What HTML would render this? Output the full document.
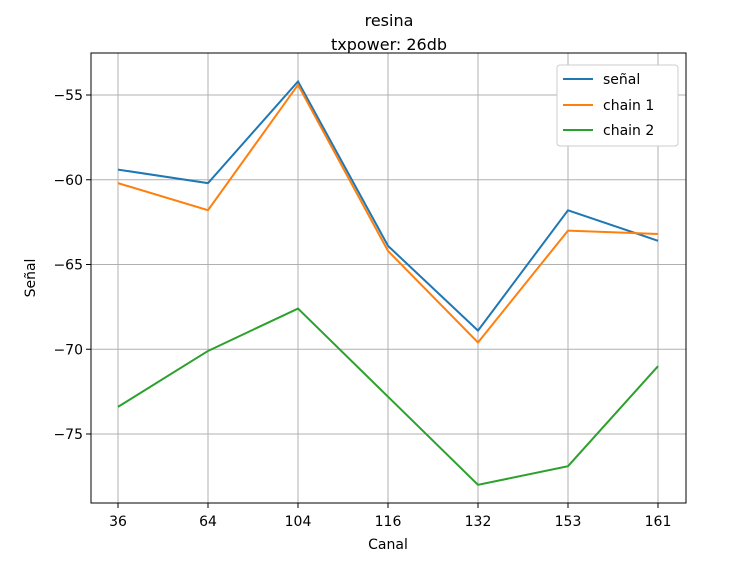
<!DOCTYPE html>
<html><head><meta charset="utf-8"><style>
body{margin:0;background:#fff;}
svg{font-family:"DejaVu Sans","Liberation Sans",sans-serif;}
</style></head><body>
<svg id="chart" width="751" height="558">
<rect width="751" height="558" fill="#fff"/>
<text x="389" y="26" font-size="16" text-anchor="middle">resina</text>
<text x="389" y="50" font-size="16" text-anchor="middle">txpower: 26db</text>
<g id="grid"></g><g id="series"></g>
<rect x="91" y="53" width="595" height="450" fill="none" stroke="#000" stroke-width="1"/>
<g id="axes"></g>
<text x="388" y="549" font-size="14" text-anchor="middle">Canal</text>
<text transform="translate(35,278) rotate(-90)" font-size="14" text-anchor="middle">Señal</text>
<g>
<rect x="557" y="65" width="121" height="81" rx="3" fill="#fff" stroke="#ccc"/>
<line x1="563" y1="79" x2="593" y2="79" stroke="#1f77b4" stroke-width="2"/>
<text x="603" y="84" font-size="14">señal</text>
<line x1="563" y1="105" x2="593" y2="105" stroke="#ff7f0e" stroke-width="2"/>
<text x="603" y="110" font-size="14">chain 1</text>
<line x1="563" y1="130" x2="593" y2="130" stroke="#2ca02c" stroke-width="2"/>
<text x="603" y="135" font-size="14">chain 2</text>
</g>
</svg>
<script>
const categories=["36","64","104","116","132","153","161"];
const senal=[-59.4,-60.2,-54.2,-63.9,-68.9,-61.8,-63.6];
const chain1=[-60.2,-61.8,-54.4,-64.2,-69.6,-63.0,-63.2];
const chain2=[-73.4,-70.1,-67.6,-72.8,-78.0,-76.9,-71.0];
const yTicks=[-55,-60,-65,-70,-75];
const NS="http://www.w3.org/2000/svg";
function xPos(i){return 118+i*90;}
function yPos(v){return 95+(-55-v)*16.95;}
function mk(t,a,p){const e=document.createElementNS(NS,t);for(const k in a)e.setAttribute(k,a[k]);p.appendChild(e);return e;}
const grid=document.getElementById('grid'),axes=document.getElementById('axes'),ser=document.getElementById('series');
categories.forEach((c,i)=>{
 const x=xPos(i);
 const g=mk('line',{x1:x,x2:x,y1:53,y2:503,stroke:'#b0b0b0','stroke-width':1},grid);
 
 
 mk('line',{x1:x,x2:x,y1:503,y2:508,stroke:'#000'},axes);
 const t=mk('text',{x:x,y:526,'font-size':14,'text-anchor':'middle'},axes);t.textContent=c;
 
 
});
yTicks.forEach(v=>{
 const y=yPos(v);
 const g=mk('line',{x1:91,x2:686,y1:y,y2:y,stroke:'#b0b0b0','stroke-width':1},grid);
 
 
 mk('line',{x1:86,x2:91,y1:y,y2:y,stroke:'#000'},axes);
 const t=mk('text',{x:83,y:y+5,'font-size':14,'text-anchor':'end'},axes);t.textContent='\u2212'+Math.abs(v);
 
 
});
[[senal,'#1f77b4','senal-line'],[chain1,'#ff7f0e','chain1-line'],[chain2,'#2ca02c','chain2-line']].forEach(([d,c,n])=>{
 const p=mk('polyline',{points:d.map((v,i)=>xPos(i)+','+yPos(v)).join(' '),fill:'none',stroke:c,'stroke-width':2},ser);
 
 
});
</script>
</body></html>
